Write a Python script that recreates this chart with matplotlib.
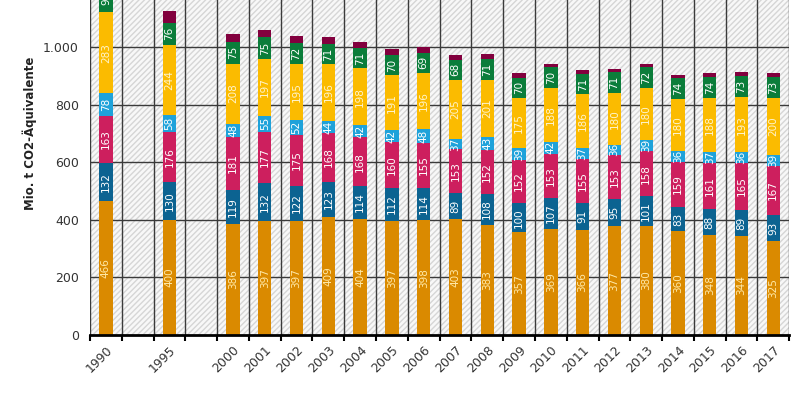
import numpy as np
import matplotlib.pyplot as plt
from matplotlib.patches import Rectangle
from matplotlib.ticker import FuncFormatter

# years and their slot on the x axis (gaps between 1990, 1995 and 2000)
years = ['1990', '1995', '2000', '2001', '2002', '2003', '2004', '2005', '2006', '2007',
         '2008', '2009', '2010', '2011', '2012', '2013', '2014', '2015', '2016', '2017']
slots = [0, 2, 4, 5, 6, 7, 8, 9, 10, 11, 12, 13, 14, 15, 16, 17, 18, 19, 20, 21]

energie = [466, 400, 386, 397, 397, 409, 404, 397, 398, 403, 383, 357, 369, 366, 377, 380, 360, 348, 344, 325]
industrie = [132, 130, 119, 132, 122, 123, 114, 112, 114, 89, 108, 100, 107, 91, 95, 101, 83, 88, 89, 93]
verkehr = [163, 176, 181, 177, 175, 168, 168, 160, 155, 153, 152, 152, 153, 155, 153, 158, 159, 161, 165, 167]
gewerbe = [78, 58, 48, 55, 52, 44, 42, 42, 48, 37, 43, 39, 42, 37, 36, 39, 36, 37, 36, 39]
haushalte = [283, 244, 208, 197, 195, 196, 198, 191, 196, 205, 201, 175, 188, 186, 180, 180, 180, 188, 193, 200]
landwirtschaft = [90, 76, 75, 75, 72, 71, 71, 70, 69, 68, 71, 70, 70, 71, 71, 72, 74, 74, 73, 73]
sonstige = [38, 41, 28, 26, 25, 24, 20, 21, 20, 17, 18, 17, 12, 14, 12, 11, 11, 12, 13, 13]

series = [energie, industrie, verkehr, gewerbe, haushalte, landwirtschaft, sonstige]
colors = ['#da8a00', '#0c6391', '#cd1f5e', '#1ea2da', '#fbbb00', '#0b7d3a', '#82003e']
label_colors = ['#ffe9a8', 'white', 'white', 'white', '#fff4cc', 'white', None]

fig = plt.figure(figsize=(8, 4), dpi=100)
ax = fig.add_axes([0.1125, 0.1625, 0.874, 0.8375])

ax.set_facecolor('#f8f8f8')
ax.add_patch(Rectangle((-0.5, 0), 22, 1300, facecolor='none', edgecolor='#d6d6d6',
                       hatch='//////', linewidth=0, zorder=0))

x = np.array(slots)
bottom = np.zeros(len(years))
for vals, col, lcol in zip(series, colors, label_colors):
    vals = np.array(vals)
    ax.bar(x, vals, width=0.42, bottom=bottom, color=col, zorder=3)
    if lcol is not None:
        for xi, b, v in zip(x, bottom, vals):
            ax.text(xi, b + v / 2, str(v), rotation=90, ha='center', va='center',
                    color=lcol, fontsize=7.5, zorder=4, clip_on=True)
    bottom += vals

# grid
for b in np.arange(-0.5, 22, 1):
    ax.axvline(b, color='#3a3a3a', lw=1.0, zorder=1)
for h in range(200, 1100, 200):
    ax.axhline(h, color='#3a3a3a', lw=1.0, zorder=1)

ax.set_xlim(-0.5, 21.5)
ax.set_ylim(0, 1163)
ax.set_yticks(range(0, 1001, 200))
ax.yaxis.set_major_formatter(FuncFormatter(lambda v, p: f'{int(v):,}'.replace(',', '.')))
ax.tick_params(axis='y', length=0, labelsize=9, labelcolor='#333333', pad=8)

ax.set_xticks(x)
ax.set_xticklabels(years, rotation=45, ha='right', rotation_mode='anchor')
ax.set_xticks(np.arange(-0.5, 22, 1), minor=True)
ax.tick_params(axis='x', which='major', length=0, labelsize=9, labelcolor='#333333', pad=6)
ax.tick_params(axis='x', which='minor', length=4, width=1.5, color='black')

for s in ['top', 'right', 'left']:
    ax.spines[s].set_visible(False)
ax.spines['bottom'].set_linewidth(2)
ax.spines['bottom'].set_zorder(5)

fig.text(0.0375, 0.6675, 'Mio. t CO2-Äquivalente', rotation=90, ha='center', va='center',
         fontsize=8.5, fontweight='bold', color='#222222')

fig.savefig('out.png', dpi=100, facecolor='white')
